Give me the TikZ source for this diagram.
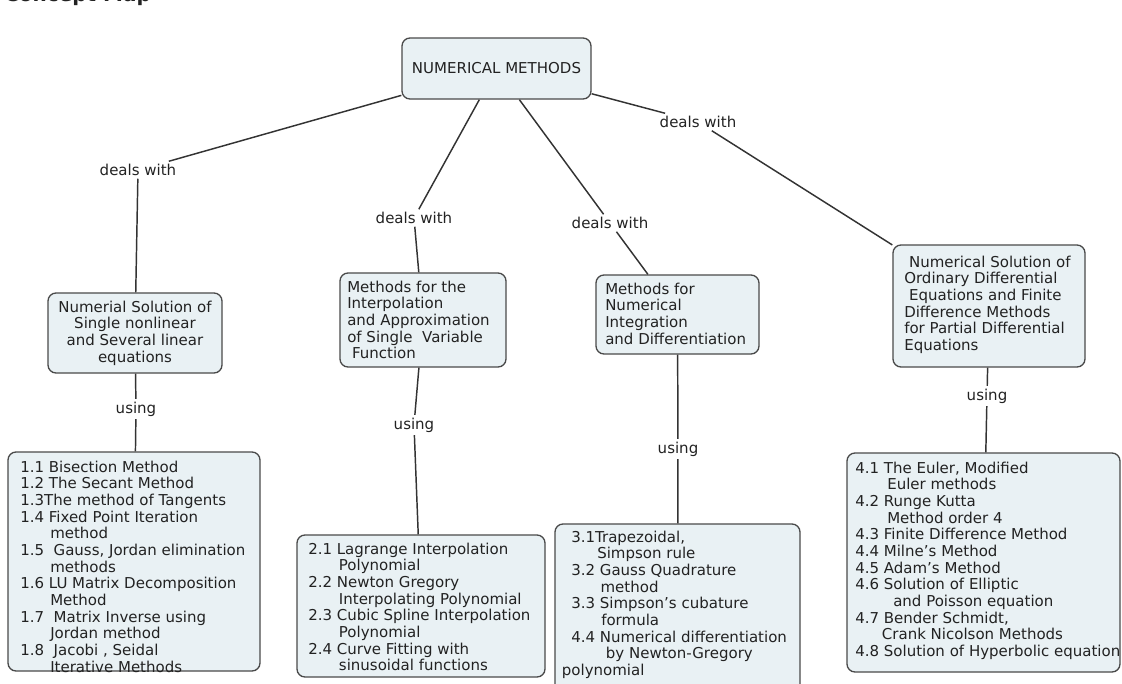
\documentclass[tikz,border=0pt]{standalone}
\usepackage{fontspec}
\setmainfont{DejaVu Sans}
\usetikzlibrary{fit}
\definecolor{boxfill}{HTML}{E9F1F4}
\definecolor{boxline}{HTML}{4A4A4A}
\definecolor{ink}{HTML}{222222}
\definecolor{wire}{HTML}{333333}
\newcommand{\blk}[1]{\begin{tabular}[t]{@{}l@{}}#1\end{tabular}}
\newcommand{\cblk}[1]{\begin{tabular}[t]{@{}c@{}}#1\end{tabular}}
\newcommand{\ind}[1]{\hspace*{#1}}
\begin{document}
\begin{tikzpicture}[x=0.75pt,y=-0.75pt,
  txt/.style={font=\fontsize{11.25}{12.5}\selectfont, text=ink, inner sep=0pt},
  box/.style={draw=boxline, fill=boxfill, line width=1pt, rounded corners=6pt, inner sep=0pt},
  lbl/.style={txt, inner sep=2pt},
  conn/.style={draw=wire, line width=1.1pt}]
\useasboundingbox (0,0) rectangle (1122,683);
\clip (0,0) rectangle (1122,683);

\node[anchor=base west, font=\bfseries\fontsize{15}{15}\selectfont, text=ink, inner sep=0pt] (title) at (4,1) {Concept Map};

% boxes
\node[box, fit={(402,38)(591,99)}] (root) {};
\node[box, fit={(48,293)(222,373)}] (m1) {};
\node[box, fit={(340,273)(506,367)}] (m2) {};
\node[box, fit={(596,275)(759,354)}] (m3) {};
\node[box, fit={(893,245)(1085,367)}] (m4) {};
\node[box, fit={(8,452)(260,671)}] (f1) {};
\node[box, fit={(297,535)(545,677)}] (f2) {};
\node[box, fit={(555,524)(800,700)}] (f3) {};
\node[box, fit={(847,453)(1120,672)}] (f4) {};

% labels
\node[lbl] (d1) at (138,170) {deals with};
\node[lbl] (d2) at (414,218) {deals with};
\node[lbl] (d3) at (610,223) {deals with};
\node[lbl] (d4) at (698,122) {deals with};
\node[lbl] (u1) at (136,409) {using};
\node[lbl] (u2) at (414,425) {using};
\node[lbl] (u3) at (678,449) {using};
\node[lbl] (u4) at (987,396) {using};

% connectors
\draw[conn] (root) -- (d1) -- (m1);
\draw[conn] (root) -- (d2) -- (m2);
\draw[conn] (root) -- (d3) -- (m3);
\draw[conn] (root) -- (d4) -- (m4);
\draw[conn] (m1) -- (u1) -- (f1);
\draw[conn] (m2) -- (u2) -- (f2);
\draw[conn] (m3) -- (u3) -- (f3);
\draw[conn] (m4) -- (u4) -- (f4);

% texts
\node[txt] (troot) at (root.center) {NUMERICAL METHODS};
\node[txt, anchor=base] (tm1) at (135,312) {\cblk{Numerial Solution of\\Single nonlinear\\and Several linear\\equations}};
\node[txt, anchor=base west] (tm2) at (347,292) {\blk{Methods for the\\Interpolation\\and Approximation\\of Single\ \ Variable\\\ Function}};
\node[txt, anchor=base west] (tm3) at (605,294) {\blk{Methods for\\Numerical\\Integration\\and Differentiation}};
\node[txt, anchor=base west] (tm4) at (904,267) {\blk{\ Numerical Solution of\\Ordinary Differential\\\ Equations and Finite\\Difference Methods\\for Partial Differential\\Equations}};

\node[txt, anchor=base west] (tf1) at (20,472) {\blk{1.1 Bisection Method\\1.2 The Secant Method\\1.3The method of Tangents\\1.4 Fixed Point Iteration\\\ind{22.5pt}method\\1.5\ \ Gauss, Jordan elimination\\\ind{22.5pt}methods\\1.6 LU Matrix Decomposition\\\ind{22.5pt}Method\\1.7\ \ Matrix Inverse using\\\ind{22.5pt}Jordan method\\1.8\ \ Jacobi , Seidal\\\ind{22.5pt}Iterative Methods}};
\node[txt, anchor=base west] (tf2) at (308,554) {\blk{2.1 Lagrange Interpolation\\\ind{23pt}Polynomial\\2.2 Newton Gregory\\\ind{23pt}Interpolating Polynomial\\2.3 Cubic Spline Interpolation\\\ind{23pt}Polynomial\\2.4 Curve Fitting with\\\ind{23pt}sinusoidal functions}};
\node[txt, anchor=base west] (tf3) at (571,542) {\blk{3.1Trapezoidal,\\\ind{19.5pt}Simpson rule\\3.2 Gauss Quadrature\\\ind{22pt}method\\3.3 Simpson’s cubature\\\ind{22.5pt}formula\\4.4 Numerical differentiation\\\ind{26pt}by Newton-Gregory\\\ind{-7pt}polynomial}};
\node[txt, anchor=base west] (tf4) at (855,473) {\blk{4.1 The Euler, Modified\\\ind{24pt}Euler methods\\4.2 Runge Kutta\\\ind{24pt}Method order 4\\4.3 Finite Difference Method\\4.4 Milne's Method\\4.5 Adam's Method\\4.6 Solution of Elliptic\\\ind{28.5pt}and Poisson equation\\4.7 Bender Schmidt,\\\ind{20pt}Crank Nicolson Methods\\4.8 Solution of Hyperbolic equation}};
\end{tikzpicture}
\end{document}
